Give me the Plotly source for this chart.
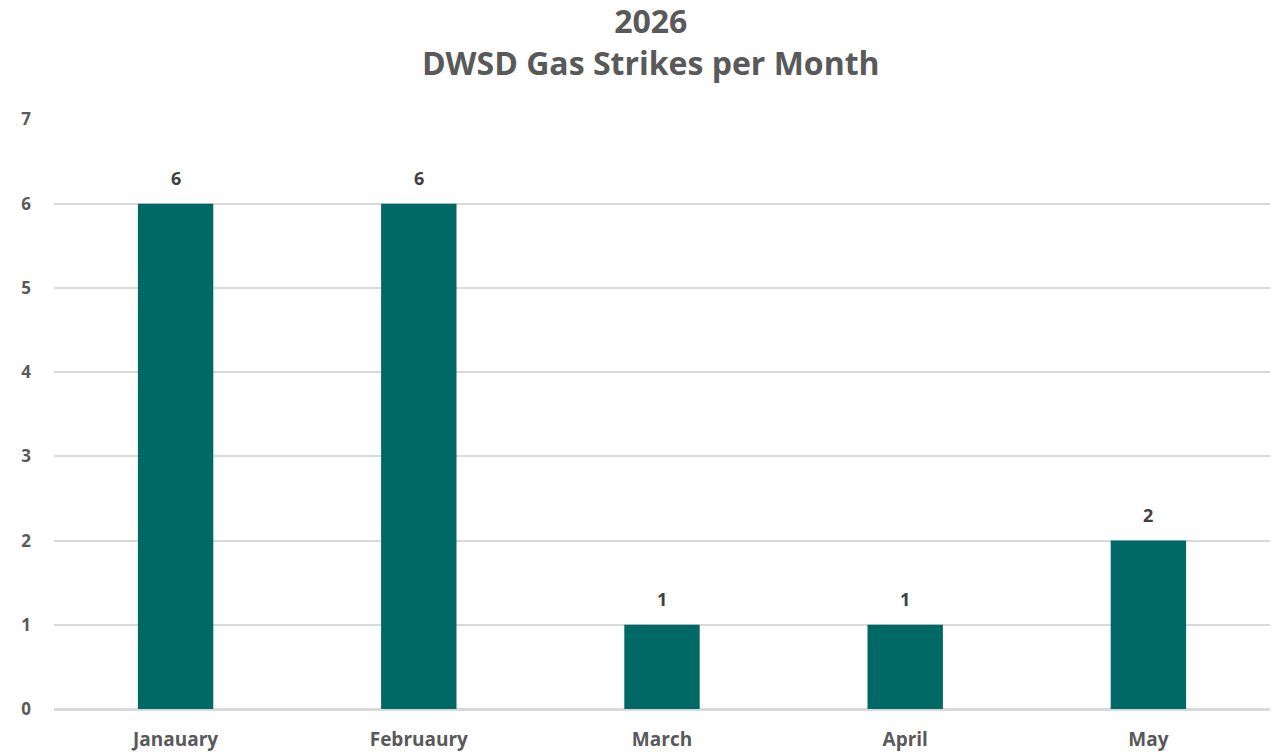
import plotly.graph_objects as go

months = ["Janauary", "Februaury", "March", "April", "May"]
strikes = [6, 6, 1, 1, 2]
y_ticks = [0, 1, 2, 3, 4, 5, 6, 7]

fig = go.Figure(go.Bar(
    x=months, y=strikes,
    marker=dict(color="#006966", line=dict(width=0)),
    cliponaxis=False,
))

for m, v in zip(months, strikes):
    fig.add_annotation(
        x=m, y=v, text=str(v), showarrow=False, yanchor="middle", yshift=26,
        font=dict(family="Open Sans", size=18, color="#404040", weight="bold"),
    )

fig.update_layout(
    width=1276, height=753,
    paper_bgcolor="white", plot_bgcolor="white",
    margin=dict(l=54, r=6, t=119, b=44),
    bargap=0.69,
    showlegend=False,
    title=dict(
        text="2026<br>DWSD Gas Strikes per Month",
        x=0.51, xanchor="center", yref="container", y=1 - 33 / 753, yanchor="middle",
        font=dict(family="Open Sans", size=32, color="#595959", weight="bold"),
    ),
    xaxis=dict(
        showgrid=False, showline=True, linecolor="#d9d9d9", linewidth=1.5,
        tickfont=dict(family="Open Sans", size=19, color="#595959", weight="bold"),
        ticks="", ticklabelstandoff=12, automargin=False,
    ),
    yaxis=dict(
        range=[0, 7.005], tickvals=y_ticks, showgrid=True, gridcolor="#d9d9d9", gridwidth=1.5,
        zeroline=True, zerolinecolor="#d9d9d9", zerolinewidth=1.5,
        tickfont=dict(family="Open Sans", size=17, color="#595959", weight="bold"),
        ticks="", ticklabelstandoff=22, automargin=False,
    ),
)

fig.write_html("out.html", config={"displayModeBar": False},
               post_script="document.body.style.margin='0px';")
